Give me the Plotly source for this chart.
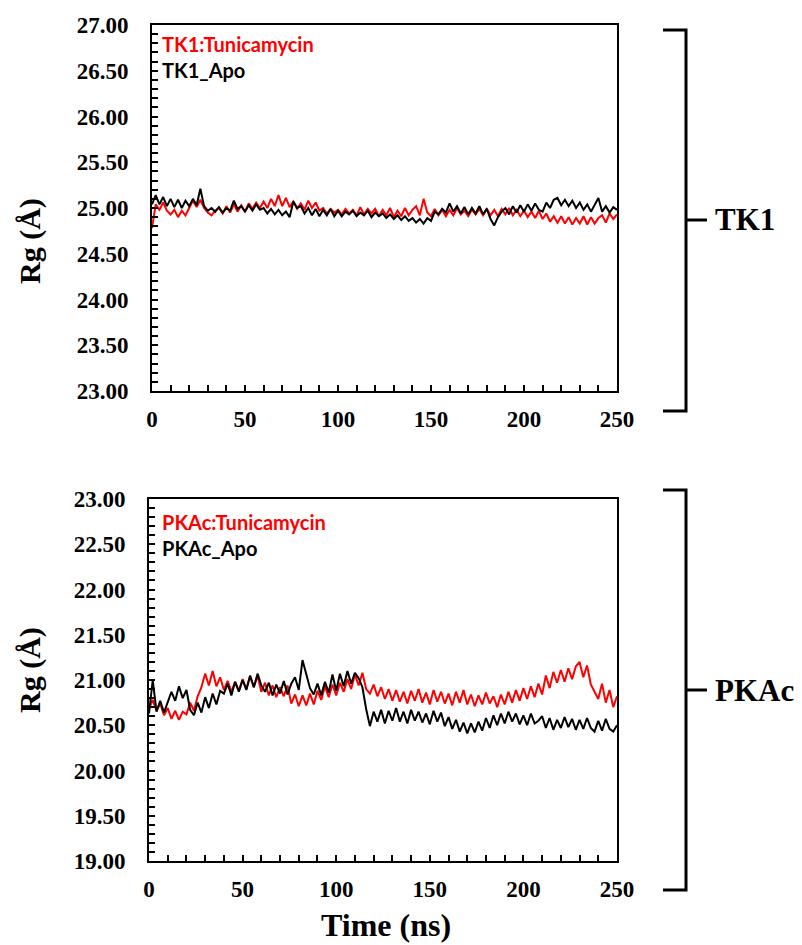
import plotly.graph_objects as go

# page body has an 8px margin, so the figure is sized to fit the 802x945 window
OFF = 8
W, H = 802 - OFF, 945 - OFF

time_ns = list(range(0, 251, 2))

tk1_tunicamycin = [
    24.78, 25.04, 24.98, 25.06, 24.97, 24.93, 24.98, 24.90, 24.97, 24.92,
    25.00, 25.08, 25.01, 25.09, 25.00, 24.95, 24.92, 24.97, 25.00, 24.94,
    25.02, 24.95, 25.04, 24.96, 25.03, 24.96, 25.05, 24.99, 25.06, 25.00,
    25.07, 25.00, 25.10, 25.02, 25.14, 25.02, 25.11, 25.01, 25.07, 24.99,
    25.05, 24.98, 25.08, 25.00, 25.06, 24.97, 25.00, 24.94, 24.99, 24.95,
    24.98, 24.93, 24.99, 24.94, 24.98, 24.92, 25.01, 24.93, 24.99, 24.94,
    24.99, 24.91, 24.98, 24.92, 25.00, 24.90, 24.97, 24.91, 25.00, 24.92,
    24.98, 25.02, 24.92, 25.10, 24.95, 24.91, 24.99, 24.92, 24.98, 24.91,
    24.98, 24.92, 25.00, 24.93, 24.97, 24.91, 24.98, 24.93, 24.99, 24.92,
    24.99, 24.92, 24.98, 24.91, 24.99, 24.93, 25.00, 24.92, 24.98, 24.91,
    24.97, 24.90, 24.96, 24.89, 24.97, 24.88, 24.94, 24.85, 24.91, 24.84,
    24.91, 24.83, 24.90, 24.82, 24.89, 24.83, 24.91, 24.82, 24.90, 24.83,
    24.89, 24.92, 24.84, 24.94, 24.88, 24.93,
]

tk1_apo = [
    25.04, 25.14, 25.04, 25.12, 25.02, 25.10, 25.01, 25.09, 25.00, 25.08,
    25.02, 25.10, 25.03, 25.21, 25.02, 24.97, 25.00, 24.96, 25.01, 24.95,
    25.00, 24.97, 25.08, 24.99, 25.02, 24.96, 25.03, 24.97, 25.04, 24.98,
    25.00, 24.94, 24.99, 24.93, 24.98, 24.92, 24.96, 24.90, 25.07, 25.00,
    25.02, 24.94, 25.00, 24.92, 24.99, 24.91, 24.98, 24.92, 24.99, 24.91,
    24.97, 24.91, 24.96, 24.93, 24.97, 24.91, 24.95, 24.92, 24.97, 24.90,
    24.95, 24.91, 24.94, 24.89, 24.93, 24.88, 24.92, 24.87, 24.91, 24.86,
    24.89, 24.84, 24.88, 24.83, 24.89, 24.86, 24.96, 24.93, 24.99, 24.95,
    25.05, 24.96, 25.02, 24.94, 25.01, 24.93, 25.00, 24.94, 25.02, 24.93,
    24.99, 24.88, 24.81, 24.90, 24.96, 25.00, 24.93, 25.02, 24.95, 25.03,
    24.96, 25.04, 24.97, 25.05, 24.98, 24.96, 25.06, 25.00, 25.09, 25.11,
    25.03, 25.09, 25.02, 25.08, 25.00, 25.06, 24.98, 25.04, 24.96, 25.03,
    25.11, 24.96, 25.02, 24.95, 25.01, 24.98,
]

pkac_tunicamycin = [
    20.68, 20.78, 20.66, 20.74, 20.61, 20.69, 20.57, 20.66, 20.56, 20.65,
    20.62, 20.75, 20.66, 20.82, 20.92, 21.07, 20.94, 21.10, 20.93, 21.03,
    20.89, 20.99, 20.87, 20.98, 20.88, 21.01, 20.90, 21.04, 20.92, 21.05,
    20.87, 20.97, 20.83, 20.94, 20.81, 20.92, 20.82, 20.94, 20.74, 20.84,
    20.71, 20.83, 20.72, 20.85, 20.73, 20.88, 20.78, 20.93, 20.81, 20.95,
    20.83, 20.97, 20.87, 21.01, 20.90, 21.06, 20.94, 21.08, 20.90, 20.85,
    20.95, 20.82, 20.92, 20.79, 20.90, 20.77, 20.89, 20.76, 20.87, 20.74,
    20.88, 20.77, 20.90, 20.75, 20.86, 20.73, 20.89, 20.76, 20.87, 20.74,
    20.85, 20.72, 20.87, 20.75, 20.89, 20.73, 20.84, 20.71, 20.83, 20.73,
    20.86, 20.74, 20.82, 20.70, 20.84, 20.73, 20.87, 20.75, 20.89, 20.77,
    20.91, 20.79, 20.93, 20.81, 20.96, 20.84, 21.05, 20.91, 21.09, 20.97,
    21.11, 20.98, 21.13, 21.01, 21.15, 21.20, 21.03, 21.16, 20.95, 20.86,
    20.79, 20.96, 20.75, 20.89, 20.70, 20.82,
]

pkac_apo = [
    20.63, 21.00, 20.65, 20.77, 20.64, 20.75, 20.87, 20.77, 20.93, 20.80,
    20.89, 20.67, 20.61, 20.75, 20.64, 20.81, 20.69, 20.85, 20.73, 20.88,
    20.85, 20.96, 20.83, 20.98, 20.87, 21.00, 20.89, 21.05, 20.92, 21.07,
    20.94, 20.87, 20.97, 20.83, 20.95, 20.85, 20.99, 20.84, 20.96, 21.03,
    20.89, 21.22, 21.07, 20.91, 20.84, 20.96, 20.83, 20.98, 20.86, 21.06,
    20.88, 21.07, 20.93, 21.10, 20.96, 21.08, 21.02, 20.92, 20.68, 20.49,
    20.65, 20.54, 20.67, 20.52, 20.66, 20.55, 20.69, 20.54, 20.65, 20.52,
    20.67, 20.55, 20.65, 20.53, 20.63, 20.51, 20.66, 20.54, 20.64, 20.49,
    20.59, 20.46, 20.56, 20.43, 20.53, 20.41, 20.52, 20.42, 20.54, 20.44,
    20.58, 20.47, 20.61, 20.50, 20.63, 20.52, 20.65, 20.54, 20.63, 20.51,
    20.61, 20.50, 20.63, 20.52, 20.55, 20.60, 20.47, 20.58, 20.45, 20.56,
    20.47, 20.59, 20.48, 20.57, 20.45, 20.56, 20.46, 20.58, 20.47, 20.43,
    20.55, 20.44, 20.57, 20.46, 20.43, 20.50,
]

panel_names = ["TK1", "PKAc"]
series_names = [["TK1:Tunicamycin", "TK1_Apo"], ["PKAc:Tunicamycin", "PKAc_Apo"]]
y_ranges = [[23, 27], [19, 23]]
x_tickvals = [0, 50, 100, 150, 200, 250]


def px_x(p):
    return (p - OFF) / W


def px_y(p):
    return 1 - (p - OFF) / H


fig = go.Figure()

RED = "#ff0000"
BLACK = "#000000"

fig.add_trace(go.Scatter(x=time_ns, y=tk1_tunicamycin, mode="lines", line=dict(color=RED, width=2),
                         xaxis="x", yaxis="y", showlegend=False))
fig.add_trace(go.Scatter(x=time_ns, y=tk1_apo, mode="lines", line=dict(color=BLACK, width=2),
                         xaxis="x", yaxis="y", showlegend=False))
fig.add_trace(go.Scatter(x=time_ns, y=pkac_tunicamycin, mode="lines", line=dict(color=RED, width=2),
                         xaxis="x2", yaxis="y2", showlegend=False))
fig.add_trace(go.Scatter(x=time_ns, y=pkac_apo, mode="lines", line=dict(color=BLACK, width=2),
                         xaxis="x2", yaxis="y2", showlegend=False))

tick_font = dict(family="Liberation Serif", size=23, color="black", weight="bold")


def xaxis_cfg(domain, anchor):
    return dict(
        domain=domain, anchor=anchor, range=[0, 250], automargin=False,
        tickvals=x_tickvals, ticks="inside", ticklen=6, tickwidth=1.5, tickcolor="black",
        minor=dict(dtick=10, tick0=0, ticks="inside", ticklen=6, tickwidth=1.5, tickcolor="black"),
        showline=True, linecolor="black", linewidth=2, mirror=True,
        showgrid=False, zeroline=False, tickfont=tick_font, ticklabelstandoff=6,
    )


def yaxis_cfg(domain, anchor, rng):
    return dict(
        domain=domain, anchor=anchor, range=rng, automargin=False,
        dtick=0.5, tick0=rng[0], tickformat=".2f",
        ticks="inside", ticklen=6, tickwidth=1.5, tickcolor="black",
        minor=dict(dtick=0.1, ticks="inside", ticklen=6, tickwidth=1.5, tickcolor="black"),
        showline=True, linecolor="black", linewidth=2, mirror=True,
        showgrid=False, zeroline=False, tickfont=tick_font, ticklabelstandoff=17,
    )


top_x = [px_x(152), px_x(617)]
bot_x = [px_x(149), px_x(617)]
top_y = [px_y(391), px_y(25)]
bot_y = [px_y(861), px_y(499)]

fig.update_layout(
    width=W, height=H,
    margin=dict(l=0, r=0, t=0, b=0, autoexpand=False),
    paper_bgcolor="white", plot_bgcolor="white",
    xaxis=xaxis_cfg(top_x, "y"),
    yaxis=yaxis_cfg(top_y, "x", y_ranges[0]),
    xaxis2=xaxis_cfg(bot_x, "y2"),
    yaxis2=yaxis_cfg(bot_y, "x2", y_ranges[1]),
)

annotations = []
legend_font = dict(family="Lato", size=20, weight="bold")
for (lx, ly), names in zip([(160, 44), (160, 522)], series_names):
    annotations.append(dict(text=names[0], x=px_x(lx), y=px_y(ly), xref="paper", yref="paper",
                            xanchor="left", yanchor="middle", showarrow=False,
                            font=dict(color=RED, **legend_font)))
    annotations.append(dict(text=names[1], x=px_x(lx), y=px_y(ly + 26), xref="paper", yref="paper",
                            xanchor="left", yanchor="middle", showarrow=False,
                            font=dict(color=BLACK, **legend_font)))

title_font = dict(family="Liberation Serif", size=30, color="black", weight="bold")
for cy in [241, 670]:
    annotations.append(dict(text="Rg (Å)", x=px_x(30), y=px_y(cy), xref="paper", yref="paper",
                            xanchor="center", yanchor="middle", showarrow=False, textangle=-90,
                            font=title_font))

annotations.append(dict(text="Time (ns)", x=px_x(386), y=px_y(925), xref="paper", yref="paper",
                        xanchor="center", yanchor="middle", showarrow=False,
                        font=dict(family="Liberation Serif", size=32, color="black", weight="bold")))

shapes = []
bracket_line = dict(color="black", width=3)
for (ytop, ybot, ymid), name in zip([(30, 411, 220), (490, 890, 690)], panel_names):
    shapes.append(dict(type="path", xref="paper", yref="paper",
                       path=f"M {px_x(663)} {px_y(ytop)} L {px_x(686)} {px_y(ytop)} L {px_x(686)} {px_y(ybot)} L {px_x(663)} {px_y(ybot)}",
                       line=bracket_line))
    shapes.append(dict(type="line", xref="paper", yref="paper",
                       x0=px_x(686), x1=px_x(707), y0=px_y(ymid), y1=px_y(ymid), line=bracket_line))
    annotations.append(dict(text=name, x=px_x(713), y=px_y(ymid), xref="paper", yref="paper",
                            xanchor="left", yanchor="middle", showarrow=False,
                            font=dict(family="Liberation Serif", size=31, color="black", weight="bold")))

fig.update_layout(annotations=annotations, shapes=shapes)

fig.write_html("out.html")
